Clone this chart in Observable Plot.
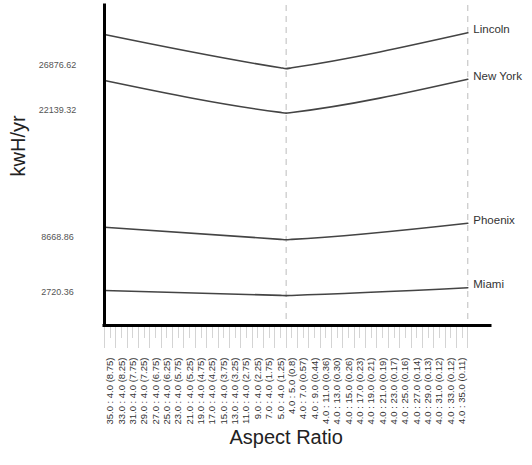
<!DOCTYPE html>
<html>
<head>
<meta charset="utf-8">
<script src="https://cdn.jsdelivr.net/npm/d3@7"></script>
<script src="https://cdn.jsdelivr.net/npm/@observablehq/plot@0.6"></script>
<style>
  html, body { margin: 0; padding: 0; background: #fff; }
  svg { font-family: "Liberation Sans", Arial, sans-serif; }
</style>
</head>
<body>
<div id="chart"></div>
<script>
// Categories (x-axis tick labels), widest (35:4) to tallest (4:35)
const categories = [
  "35.0 : 4.0 (8.75)", "33.0 : 4.0 (8.25)", "31.0 : 4.0 (7.75)", "29.0 : 4.0 (7.25)",
  "27.0 : 4.0 (6.75)", "25.0 : 4.0 (6.25)", "23.0 : 4.0 (5.75)", "21.0 : 4.0 (5.25)",
  "19.0 : 4.0 (4.75)", "17.0 : 4.0 (4.25)", "15.0 : 4.0 (3.75)", "13.0 : 4.0 (3.25)",
  "11.0 : 4.0 (2.75)", "9.0 : 4.0 (2.25)", "7.0 : 4.0 (1.75)", "5.0 : 4.0 (1.25)",
  "4.0 : 5.0 (0.8)", "4.0 : 7.0 (0.57)", "4.0 : 9.0 (0.44)", "4.0 : 11.0 (0.36)",
  "4.0 : 13.0 (0.30)", "4.0 : 15.0 (0.26)", "4.0 : 17.0 (0.23)", "4.0 : 19.0 (0.21)",
  "4.0 : 21.0 (0.19)", "4.0 : 23.0 (0.17)", "4.0 : 25.0 (0.16)", "4.0 : 27.0 (0.14)",
  "4.0 : 29.0 (0.13)", "4.0 : 31.0 (0.12)", "4.0 : 33.0 (0.12)", "4.0 : 35.0 (0.11)"
];

const cities = ["Lincoln", "New York", "Phoenix", "Miami"];
// Values (kWh/yr)
const leftEnd   = [30505, 25609, 9998, 3262];        // 35:4 edge
const near125   = [26970, 22215, 8705, 2740];        // 5:4 (1.25)
const squareMin = [26876.62, 22139.32, 8668.86, 2720.36]; // 1:1 (minimum, y tick labels)
const near08    = [26965, 22210, 8700, 2738];        // 4:5 (0.8)
const rightEnd  = [30686, 25748, 10424, 3549];       // 4:35 edge

// Positions along the category axis (index units; bands centred on integers)
const xLeft = -0.5, x125 = 15, xSquare = 15.5, x08 = 16, xRight = 31.5;

const series = [];
cities.forEach((c, k) => {
  series.push({city: c, x: xLeft, v: leftEnd[k]});
  series.push({city: c, x: x125, v: near125[k]});
  series.push({city: c, x: xSquare, v: squareMin[k]});
  series.push({city: c, x: x08, v: near08[k]});
  series.push({city: c, x: xRight, v: rightEnd[k]});
});
const ends = cities.map((c, k) => ({city: c, x: xRight, v: rightEnd[k]}));

const centers = categories.map((_, i) => i);
const edges = d3.range(categories.length + 1).map(i => i - 0.5);

const yMin = -462, yMax = 33591;

const chart = Plot.plot({
  width: 532,
  height: 465,
  marginLeft: 104,
  marginRight: 42,
  marginTop: 5,
  marginBottom: 140,
  style: {fontFamily: "'Liberation Sans', Arial, sans-serif", background: "#fff"},
  x: {domain: [-0.5, 33.5], axis: null},
  y: {domain: [yMin, yMax], axis: null},
  marks: [
    Plot.ruleX([xSquare, xRight], {stroke: "#bdbdbd", strokeWidth: 1, strokeDasharray: "6,5"}),
    Plot.axisX(edges, {tickSize: 23, text: null, label: null, stroke: "#d4d4d4", strokeWidth: 1}),
    Plot.axisX(centers, {tickSize: 13, text: null, label: null, stroke: "#d4d4d4", strokeWidth: 1}),
    Plot.axisX(centers, {
      tickSize: 0, tickPadding: 32, tickRotate: -90,
      tickFormat: i => categories[i], fontSize: 9.5, fill: "#333", label: null
    }),
    Plot.lineY(series, {x: "x", y: "v", z: "city", curve: "monotone-x", stroke: "#444", strokeWidth: 1.6}),
    Plot.text(ends, {x: "x", y: "v", text: "city", textAnchor: "start", dx: 5.5, dy: -3, fontSize: 11.5, fill: "#333"}),
    Plot.ruleY([yMin], {stroke: "#000", strokeWidth: 3, strokeLinecap: "square"}),
    Plot.ruleX([xLeft], {stroke: "#000", strokeWidth: 3, strokeLinecap: "square"}),
    Plot.axisY(squareMin, {
      anchor: "left", tickSize: 0, tickPadding: 0, textAnchor: "middle",
      dx: -47, dy: -3, tickFormat: d => d.toFixed(2), fontSize: 9, fill: "#555", label: null
    }),
    Plot.text(["kwH/yr"], {frameAnchor: "left", y: [15400], dx: -86, rotate: -90, fontSize: 20, fill: "#222"}),
    Plot.text(["Aspect Ratio"], {x: [xSquare], frameAnchor: "bottom", dy: 118, fontSize: 20, fill: "#222"})
  ]
});
// Lighten and sharpen the tick marks below the axis
d3.select(chart).selectAll('g[aria-label="x-axis tick"]')
  .attr("stroke", "#d4d4d4")
  .attr("shape-rendering", "crispEdges")
  .selectAll("path, line").attr("stroke", "#d4d4d4");
document.getElementById("chart").appendChild(chart);
</script>
</body>
</html>
